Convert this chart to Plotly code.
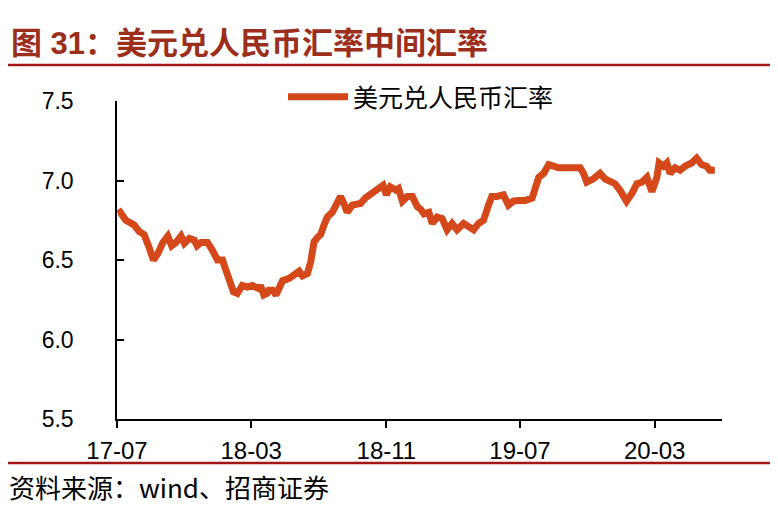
import plotly.graph_objects as go

dates = [
    "2017-07-03", "2017-07-07", "2017-07-17", "2017-08-01", "2017-08-10", "2017-08-19",
    "2017-08-28", "2017-09-05", "2017-09-13", "2017-09-22", "2017-10-01", "2017-10-08",
    "2017-10-16", "2017-10-25", "2017-10-31", "2017-11-09", "2017-11-18", "2017-11-23",
    "2017-11-30", "2017-12-12", "2017-12-21", "2017-12-30", "2018-01-08", "2018-01-14",
    "2018-01-20", "2018-01-28", "2018-02-04", "2018-02-13", "2018-02-22", "2018-03-03",
    "2018-03-15", "2018-03-18", "2018-03-24", "2018-03-30", "2018-04-02", "2018-04-09",
    "2018-04-15", "2018-04-27", "2018-05-09", "2018-05-18", "2018-05-27", "2018-06-02",
    "2018-06-11", "2018-06-17", "2018-06-23", "2018-06-30", "2018-07-05", "2018-07-11",
    "2018-07-17", "2018-07-26", "2018-08-01", "2018-08-10", "2018-08-16", "2018-08-22",
    "2018-08-31", "2018-09-09", "2018-09-15", "2018-09-24", "2018-10-06", "2018-10-18",
    "2018-10-26", "2018-11-01", "2018-11-08", "2018-11-18", "2018-11-23", "2018-11-30",
    "2018-12-09", "2018-12-18", "2018-12-27", "2019-01-02", "2019-01-08", "2019-01-17",
    "2019-01-23", "2019-02-01", "2019-02-10", "2019-02-19", "2019-02-28", "2019-03-09",
    "2019-03-21", "2019-03-30", "2019-04-08", "2019-04-17", "2019-04-26", "2019-05-05",
    "2019-05-11", "2019-05-20", "2019-06-01", "2019-06-10", "2019-06-19", "2019-06-28",
    "2019-07-11", "2019-07-23", "2019-07-29", "2019-08-04", "2019-08-13", "2019-08-22",
    "2019-08-31", "2019-09-09", "2019-09-24", "2019-10-06", "2019-10-18", "2019-10-24",
    "2019-10-30", "2019-11-11", "2019-11-23", "2019-12-02", "2019-12-11", "2019-12-20",
    "2019-12-29", "2020-01-10", "2020-01-20", "2020-01-29", "2020-02-07", "2020-02-16",
    "2020-02-25", "2020-03-05", "2020-03-09", "2020-03-17", "2020-03-23", "2020-03-29",
    "2020-04-07", "2020-04-16", "2020-04-25", "2020-05-07", "2020-05-16", "2020-05-25",
    "2020-06-03", "2020-06-09", "2020-06-18",
]

usd_cny = [
    6.79, 6.80, 6.75, 6.72, 6.68, 6.66,
    6.58, 6.50, 6.54, 6.61, 6.65, 6.59,
    6.61, 6.65, 6.605, 6.635, 6.625, 6.59,
    6.61, 6.61, 6.56, 6.50, 6.50, 6.44,
    6.37, 6.30, 6.29, 6.34, 6.33, 6.34,
    6.32, 6.34, 6.28, 6.29, 6.31, 6.31,
    6.28, 6.37, 6.385, 6.41, 6.43, 6.40,
    6.415, 6.49, 6.615, 6.645, 6.66, 6.72,
    6.77, 6.80, 6.835, 6.90, 6.855, 6.80,
    6.845, 6.845, 6.855, 6.89, 6.92, 6.95,
    6.97, 6.91, 6.96, 6.94, 6.95, 6.87,
    6.90, 6.90, 6.835, 6.82, 6.79, 6.80,
    6.73, 6.77, 6.76, 6.69, 6.73, 6.69,
    6.73, 6.71, 6.69, 6.73, 6.75, 6.845,
    6.90, 6.90, 6.91, 6.845, 6.87, 6.875,
    6.875, 6.89, 6.96, 7.02, 7.045, 7.10,
    7.09, 7.08, 7.08, 7.08, 7.08, 7.045,
    6.99, 7.01, 7.045, 7.01, 6.99, 6.98,
    6.94, 6.87, 6.92, 6.98, 6.99, 7.02,
    6.93, 7.02, 7.11, 7.09, 7.11, 7.045,
    7.08, 7.065, 7.09, 7.11, 7.14, 7.10,
    7.09, 7.065, 7.065,
]

series_name = "美元兑人民币汇率"
title_text = "图 31：美元兑人民币汇率中间汇率"
source_text = "资料来源：wind、招商证券"
y_ticks = [5.5, 6.0, 6.5, 7.0, 7.5]

LINE_COLOR = "rgb(212,72,26)"
RULE_COLOR = "#A31515"
TITLE_COLOR = "#9C2F1C"
FONT = "Liberation Sans, Arial, Noto Sans CJK SC, sans-serif"
CJK = "Noto Sans CJK SC, sans-serif"

fig = go.Figure()
fig.add_trace(go.Scatter(
    x=dates, y=usd_cny, mode="lines", name=series_name,
    line=dict(color=LINE_COLOR, width=7),
))

# paper coordinate helpers, in target-image pixels (plot area: x 117..722, y 101..419)
def px(x):
    return (x - 117) / 605.0

def py(y):
    return (419 - y) / 318.0

# page body has an 8px margin, so the figure is offset by 8px
fig.update_layout(
    width=770, height=508,
    margin=dict(l=109, r=56, t=93, b=97),
    paper_bgcolor="white", plot_bgcolor="white",
    font=dict(family=FONT, color="black", size=22),
    showlegend=True,
    legend=dict(
        x=px(283), y=py(97), xanchor="left", yanchor="middle",
        orientation="h", bgcolor="rgba(0,0,0,0)",
        font=dict(family=CJK, size=25, color="black"),
        itemwidth=60,
    ),
    xaxis=dict(
        type="date", range=["2017-07-01", "2020-07-01"],
        tick0="2017-07-01", dtick="M8", tickformat="%y-%m",
        ticks="outside", ticklen=7, tickwidth=1.5, tickcolor="black",
        showline=True, linecolor="black", linewidth=1.5,
        showgrid=False, zeroline=False,
        tickfont=dict(family=FONT, size=24, color="black"),
        ticklabelstandoff=2,
    ),
    yaxis=dict(
        range=[5.5, 7.5], tickvals=y_ticks, tickformat=".1f",
        ticks="inside", ticklen=7, tickwidth=1.5, tickcolor="black",
        showline=True, linecolor="black", linewidth=1.5,
        showgrid=False, zeroline=False,
        tickfont=dict(family=FONT, size=23, color="black"),
        ticklabelstandoff=37,
    ),
    shapes=[
        dict(type="line", xref="paper", yref="paper",
             x0=px(5), x1=px(775), y0=py(65), y1=py(65),
             line=dict(color=RULE_COLOR, width=2.5)),
        dict(type="line", xref="paper", yref="paper",
             x0=px(5), x1=px(775), y0=py(463), y1=py(463),
             line=dict(color=RULE_COLOR, width=2.5)),
    ],
    annotations=[
        dict(text="<b>" + title_text + "</b>", xref="paper", yref="paper",
             x=px(9), y=py(44), xanchor="left", yanchor="middle",
             showarrow=False, font=dict(family=FONT, size=31, color=TITLE_COLOR)),
        dict(text=source_text, xref="paper", yref="paper",
             x=px(7), y=py(486), xanchor="left", yanchor="middle",
             showarrow=False, font=dict(family=CJK, size=26, color="black")),
    ],
)

fig.write_html("out.html")
